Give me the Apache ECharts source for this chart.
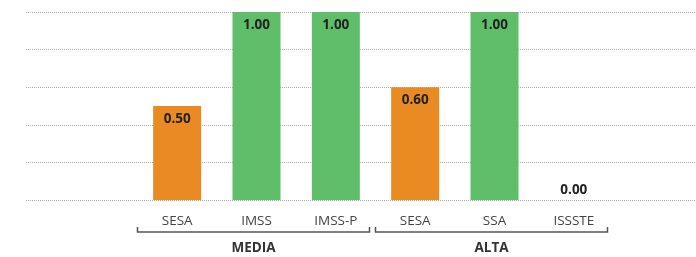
<!DOCTYPE html>
<html>
<head>
<meta charset="utf-8">
<script src="https://cdn.jsdelivr.net/npm/echarts@6/dist/echarts.min.js"></script>
<style>
    html, body { margin: 0; padding: 0; background: #fff; }
    #main { width: 696px; height: 257px; }
</style>
</head>
<body>
<div id="main"></div>
<script>
    // data
    var categories = ['SESA', 'IMSS', 'IMSS-P', 'SESA', 'SSA', 'ISSSTE'];
    var values = [0.5, 1.0, 1.0, 0.6, 1.0, 0.0];
    var groups = ['MEDIA', 'ALTA'];
    var groupStart = [0, 3];
    var groupEnd = [2, 5];

    var orange = '#E98A23';
    var green = '#60BE6B';
    var font = 'Open Sans';

    var chartDom = document.getElementById('main');
    var myChart = echarts.init(chartDom);

    var barData = values.map(function (v, i) {
        return {
            value: v,
            itemStyle: { color: categories[i] === 'SESA' ? orange : green },
            label: v === 0 ? { position: 'top', distance: 3 } : {}
        };
    });

    var groupData = groups.map(function (name, i) {
        return [groupStart[i], groupEnd[i]];
    });

    function renderBracket(params, api) {
        var band = api.size([1, 0])[0];
        var left = api.coord([api.value(0), 0]);
        var right = api.coord([api.value(1), 0]);
        var x0 = left[0] - band / 2;
        var x1 = right[0] + band / 2 - 6;
        var y = left[1] + 32;
        return {
            type: 'group',
            children: [
                {
                    type: 'polyline',
                    shape: { points: [[x0, y - 5], [x0, y], [x1, y], [x1, y - 5]] },
                    style: { stroke: '#555', lineWidth: 1.5, fill: null }
                },
                {
                    type: 'text',
                    style: {
                        x: (x0 + x1) / 2,
                        y: y + 16,
                        text: groups[params.dataIndex],
                        align: 'center',
                        verticalAlign: 'middle',
                        fontFamily: font,
                        fontWeight: 'bold',
                        fontSize: 13.5,
                        fill: '#333'
                    }
                }
            ]
        };
    }

    var option = {
        animation: false,
        grid: [
            { left: 26, right: 1, top: 12, bottom: 57 },
            { left: 137.5, width: 476, top: 12, bottom: 57 }
        ],
        xAxis: [
            {
                gridIndex: 0, type: 'category', data: [''],
                axisLine: { show: false }, axisTick: { show: false }, axisLabel: { show: false }
            },
            {
                gridIndex: 1, type: 'category', data: categories,
                axisLine: { show: false }, axisTick: { show: false },
                axisLabel: { margin: 14, color: '#444', fontSize: 13.5, fontFamily: font }
            }
        ],
        yAxis: [
            {
                gridIndex: 0, type: 'value', min: 0, max: 1, interval: 0.2,
                axisLine: { show: false }, axisTick: { show: false }, axisLabel: { show: false },
                splitLine: { lineStyle: { color: '#aaa', type: [1, 1], width: 1 } }
            },
            {
                gridIndex: 1, type: 'value', min: 0, max: 1, show: false,
                splitLine: { show: false }
            }
        ],
        series: [
            {
                type: 'bar',
                xAxisIndex: 1,
                yAxisIndex: 1,
                barWidth: 48,
                data: barData,
                label: {
                    show: true,
                    position: 'insideTop',
                    distance: 6,
                    color: '#222',
                    fontFamily: font,
                    fontWeight: 'bold',
                    fontSize: 13.5,
                    formatter: function (p) { return p.value.toFixed(2); }
                }
            },
            {
                type: 'custom',
                xAxisIndex: 1,
                yAxisIndex: 1,
                clip: false,
                silent: true,
                encode: { x: [0, 1] },
                data: groupData,
                renderItem: renderBracket
            }
        ]
    };

    myChart.setOption(option);
</script>
</body>
</html>
